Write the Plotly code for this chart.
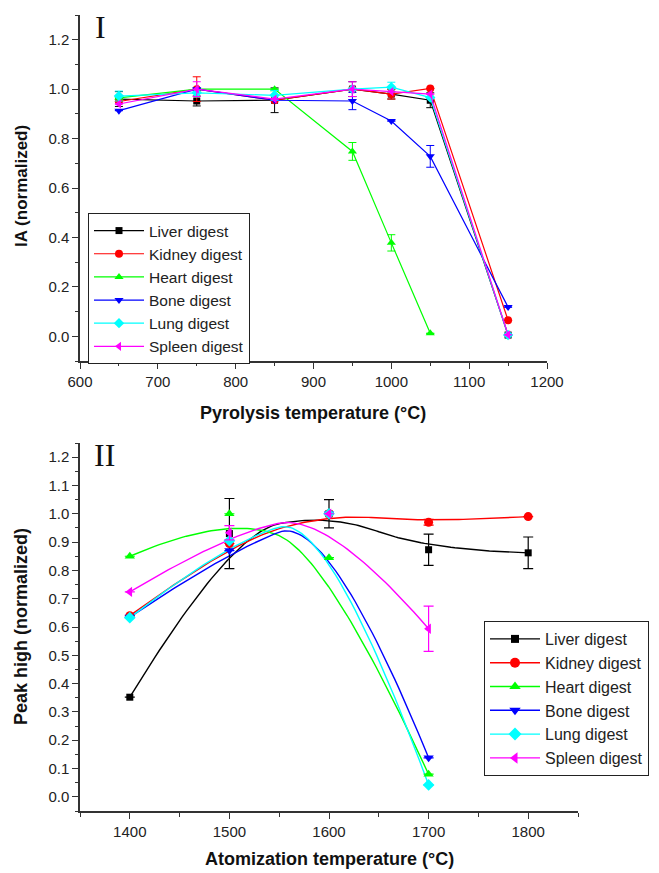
import plotly.graph_objects as go
import numpy as np

# ---------------- Data: panel I (pyrolysis) ----------------
pyro_temp = [650, 750, 850, 950, 1000, 1050, 1150]
heart_pyro_temp = [650, 750, 850, 950, 1000, 1050]

liver_ia = [0.96, 0.952, 0.955, 1.00, 0.98, 0.955, 0.005]
liver_ia_err = [0.03, 0.02, 0.05, 0.03, 0.02, 0.03, None]
kidney_ia = [0.95, 1.00, 0.955, 1.00, 0.98, 1.003, 0.065]
kidney_ia_err = [None, 0.05, None, None, 0.02, None, None]
heart_ia = [0.965, 1.00, 1.00, 0.748, 0.378, 0.012]
heart_ia_err = [None, None, None, 0.036, 0.033, None]
bone_ia = [0.913, 1.00, 0.955, 0.952, 0.871, 0.728, 0.118]
bone_ia_err = [None, None, None, 0.035, None, 0.044, None]
lung_ia = [0.972, 0.985, 0.975, 1.00, 1.008, 0.966, 0.005]
lung_ia_err = [0.02, None, 0.02, None, 0.02, None, None]
spleen_ia = [0.94, 1.00, 0.96, 1.00, 0.99, 0.98, 0.006]
spleen_ia_err = [None, 0.03, None, 0.03, None, None, None]

# ---------------- Data: panel II (atomization) ----------------
atom_temp = [1400, 1500, 1600, 1700, 1800]
atom_temp4 = [1400, 1500, 1600, 1700]

liver_ph = [0.352, 0.93, 1.00, 0.873, 0.862]
liver_ph_err = [None, 0.124, 0.05, 0.055, 0.056]
kidney_ph = [0.64, 0.895, 1.00, 0.97, 0.99]
kidney_ph_err = [None, None, None, 0.01, None]
heart_ph = [0.85, 1.00, 0.845, 0.08]
heart_ph_err = [None, None, None, None]
bone_ph = [0.635, 0.87, 1.00, 0.138]
bone_ph_err = [None, None, None, None]
lung_ph = [0.633, 0.905, 1.00, 0.042]
lung_ph_err = [None, None, None, None]
spleen_ph = [0.724, 0.933, 1.00, 0.594]
spleen_ph_err = [None, 0.025, None, 0.08]

names = ["Liver digest", "Kidney digest", "Heart digest", "Bone digest", "Lung digest", "Spleen digest"]
colors = ["#000000", "#FF0000", "#00FF00", "#0000FF", "#00FFFF", "#FF00FF"]
symbols = ["square", "circle", "triangle-up", "triangle-down", "diamond", "triangle-left"]

FONT = "Arial, Liberation Sans, sans-serif"


def bspline2(xs, ys, n=40):
    """Clamped quadratic B-spline (uniform knots) using data as control points."""
    P = np.column_stack([xs, ys]).astype(float)
    m = len(P) - 1
    out = []
    for i in range(1, m):
        a = P[0] if i == 1 else (P[i - 1] + P[i]) / 2
        b = P[i]
        c = P[m] if i == m - 1 else (P[i] + P[i + 1]) / 2
        t = np.linspace(0, 1, n)[:, None]
        seg = (1 - t) ** 2 * a + 2 * t * (1 - t) * b + t ** 2 * c
        out.append(seg if i == 1 else seg[1:])
    out = np.vstack(out)
    return out[:, 0], out[:, 1]


fig = go.Figure()

# ---- Panel I traces ----
top_sets = [
    (pyro_temp, liver_ia, liver_ia_err),
    (pyro_temp, kidney_ia, kidney_ia_err),
    (heart_pyro_temp, heart_ia, heart_ia_err),
    (pyro_temp, bone_ia, bone_ia_err),
    (pyro_temp, lung_ia, lung_ia_err),
    (pyro_temp, spleen_ia, spleen_ia_err),
]
for k, (xs, ys, es) in enumerate(top_sets):
    fig.add_trace(go.Scatter(
        x=xs, y=ys, mode="lines+markers", name=names[k],
        line=dict(color=colors[k], width=1.2),
        marker=dict(symbol=symbols[k], size=8 if symbols[k] != "square" else 7, color=colors[k]),
        error_y=dict(type="data", array=es, visible=True, color=colors[k], thickness=1, width=4),
        xaxis="x", yaxis="y", legend="legend",
    ))

# ---- Panel II traces ----
bot_sets = [
    (atom_temp, liver_ph, liver_ph_err),
    (atom_temp, kidney_ph, kidney_ph_err),
    (atom_temp4, heart_ph, heart_ph_err),
    (atom_temp4, bone_ph, bone_ph_err),
    (atom_temp4, lung_ph, lung_ph_err),
    (atom_temp4, spleen_ph, spleen_ph_err),
]
for k, (xs, ys, es) in enumerate(bot_sets):
    cx, cy = bspline2(xs, ys)
    fig.add_trace(go.Scatter(
        x=cx, y=cy, mode="lines", line=dict(color=colors[k], width=1.4),
        showlegend=False, hoverinfo="skip", xaxis="x2", yaxis="y2",
    ))
for k, (xs, ys, es) in enumerate(bot_sets):
    fig.add_trace(go.Scatter(
        x=xs, y=ys, mode="markers", name=names[k], showlegend=False,
        marker=dict(symbol=symbols[k], size=9 if symbols[k] != "square" else 7, color=colors[k]),
        error_y=dict(type="data", array=es, visible=True, color=colors[k], thickness=1.2, width=5),
        xaxis="x2", yaxis="y2",
    ))
# legend entries for panel II
for k in range(6):
    fig.add_trace(go.Scatter(
        x=[None], y=[None], mode="lines+markers", name=names[k],
        line=dict(color=colors[k], width=1.4),
        marker=dict(symbol=symbols[k], size=10 if symbols[k] != "square" else 8, color=colors[k]),
        xaxis="x2", yaxis="y2", legend="legend2",
    ))

# page body has an 8px margin: the figure is placed at (8, 8) in the window
OFF = 8
W, H = 659 - OFF, 873 - OFF


def px_x(p):
    return (p - OFF) / W


def px_y(p):
    return 1 - (p - OFF) / H


axis_common = dict(
    showline=True, linecolor="#333333", linewidth=1.5, ticks="outside", ticklen=6,
    tickwidth=1.3, tickcolor="#333333", showgrid=False, zeroline=False, automargin=False,
    tickfont=dict(family=FONT, size=15, color="#222222"),
)

fig.update_layout(
    template="none",
    width=W, height=H, margin=dict(l=0, r=0, t=0, b=0, pad=0),
    plot_bgcolor="white", paper_bgcolor="white",
    font=dict(family=FONT, size=15, color="#222222"),
    xaxis=dict(domain=[px_x(80), px_x(547)], range=[600, 1200], tick0=600, dtick=100,
               minor=dict(dtick=50, ticks="outside", ticklen=3, tickcolor="#333333"),
               anchor="y", **axis_common),
    yaxis=dict(domain=[px_y(361), px_y(15)], range=[-0.1, 1.3], tick0=0, dtick=0.2,
               tickformat=".1f",
               minor=dict(dtick=0.1, ticks="outside", ticklen=3, tickcolor="#333333"),
               anchor="x", **axis_common),
    xaxis2=dict(domain=[px_x(80), px_x(578)], range=[1350, 1850], tick0=1400, dtick=100,
                minor=dict(dtick=50, ticks="outside", ticklen=4, tickcolor="#333333"),
                anchor="y2", **axis_common),
    yaxis2=dict(domain=[px_y(811), px_y(443)], range=[-0.05, 1.25], tick0=0, dtick=0.1,
                tickformat=".1f",
                minor=dict(dtick=0.05, ticks="outside", ticklen=3, tickcolor="#333333"),
                anchor="x2", **axis_common),
    legend=dict(x=px_x(88), y=px_y(213), xanchor="left", yanchor="top",
                bordercolor="#222222", borderwidth=1, bgcolor="white", itemwidth=50,
                font=dict(family=FONT, size=15.5, color="#222222"), tracegroupgap=0),
    legend2=dict(x=px_x(484), y=px_y(621), xanchor="left", yanchor="top",
                 bordercolor="#222222", borderwidth=1, bgcolor="white", itemwidth=50,
                 font=dict(family=FONT, size=16, color="#222222"), tracegroupgap=0),
    showlegend=True,
)

ann = [
    dict(text="I", x=px_x(100), y=px_y(27), xanchor="center", yanchor="middle",
         font=dict(family="Liberation Serif, Times New Roman, serif", size=32, color="#111")),
    dict(text="II", x=px_x(104), y=px_y(455), xanchor="center", yanchor="middle",
         font=dict(family="Liberation Serif, Times New Roman, serif", size=32, color="#111")),
    dict(text="<b>IA (normalized)</b>", x=px_x(21), y=px_y(186), textangle=-90,
         xanchor="center", yanchor="middle", font=dict(family=FONT, size=17, color="#111")),
    dict(text="<b>Pyrolysis temperature (°C)</b>", x=px_x(313), y=px_y(413),
         xanchor="center", yanchor="middle", font=dict(family=FONT, size=18, color="#111")),
    dict(text="<b>Peak high (normalized)</b>", x=px_x(21), y=px_y(627), textangle=-90,
         xanchor="center", yanchor="middle", font=dict(family=FONT, size=18, color="#111")),
    dict(text="<b>Atomization temperature (°C)</b>", x=px_x(329), y=px_y(859),
         xanchor="center", yanchor="middle", font=dict(family=FONT, size=18, color="#111")),
]
for a in ann:
    a.update(xref="paper", yref="paper", showarrow=False)
fig.update_layout(annotations=ann)

fig.write_html("out.html")
